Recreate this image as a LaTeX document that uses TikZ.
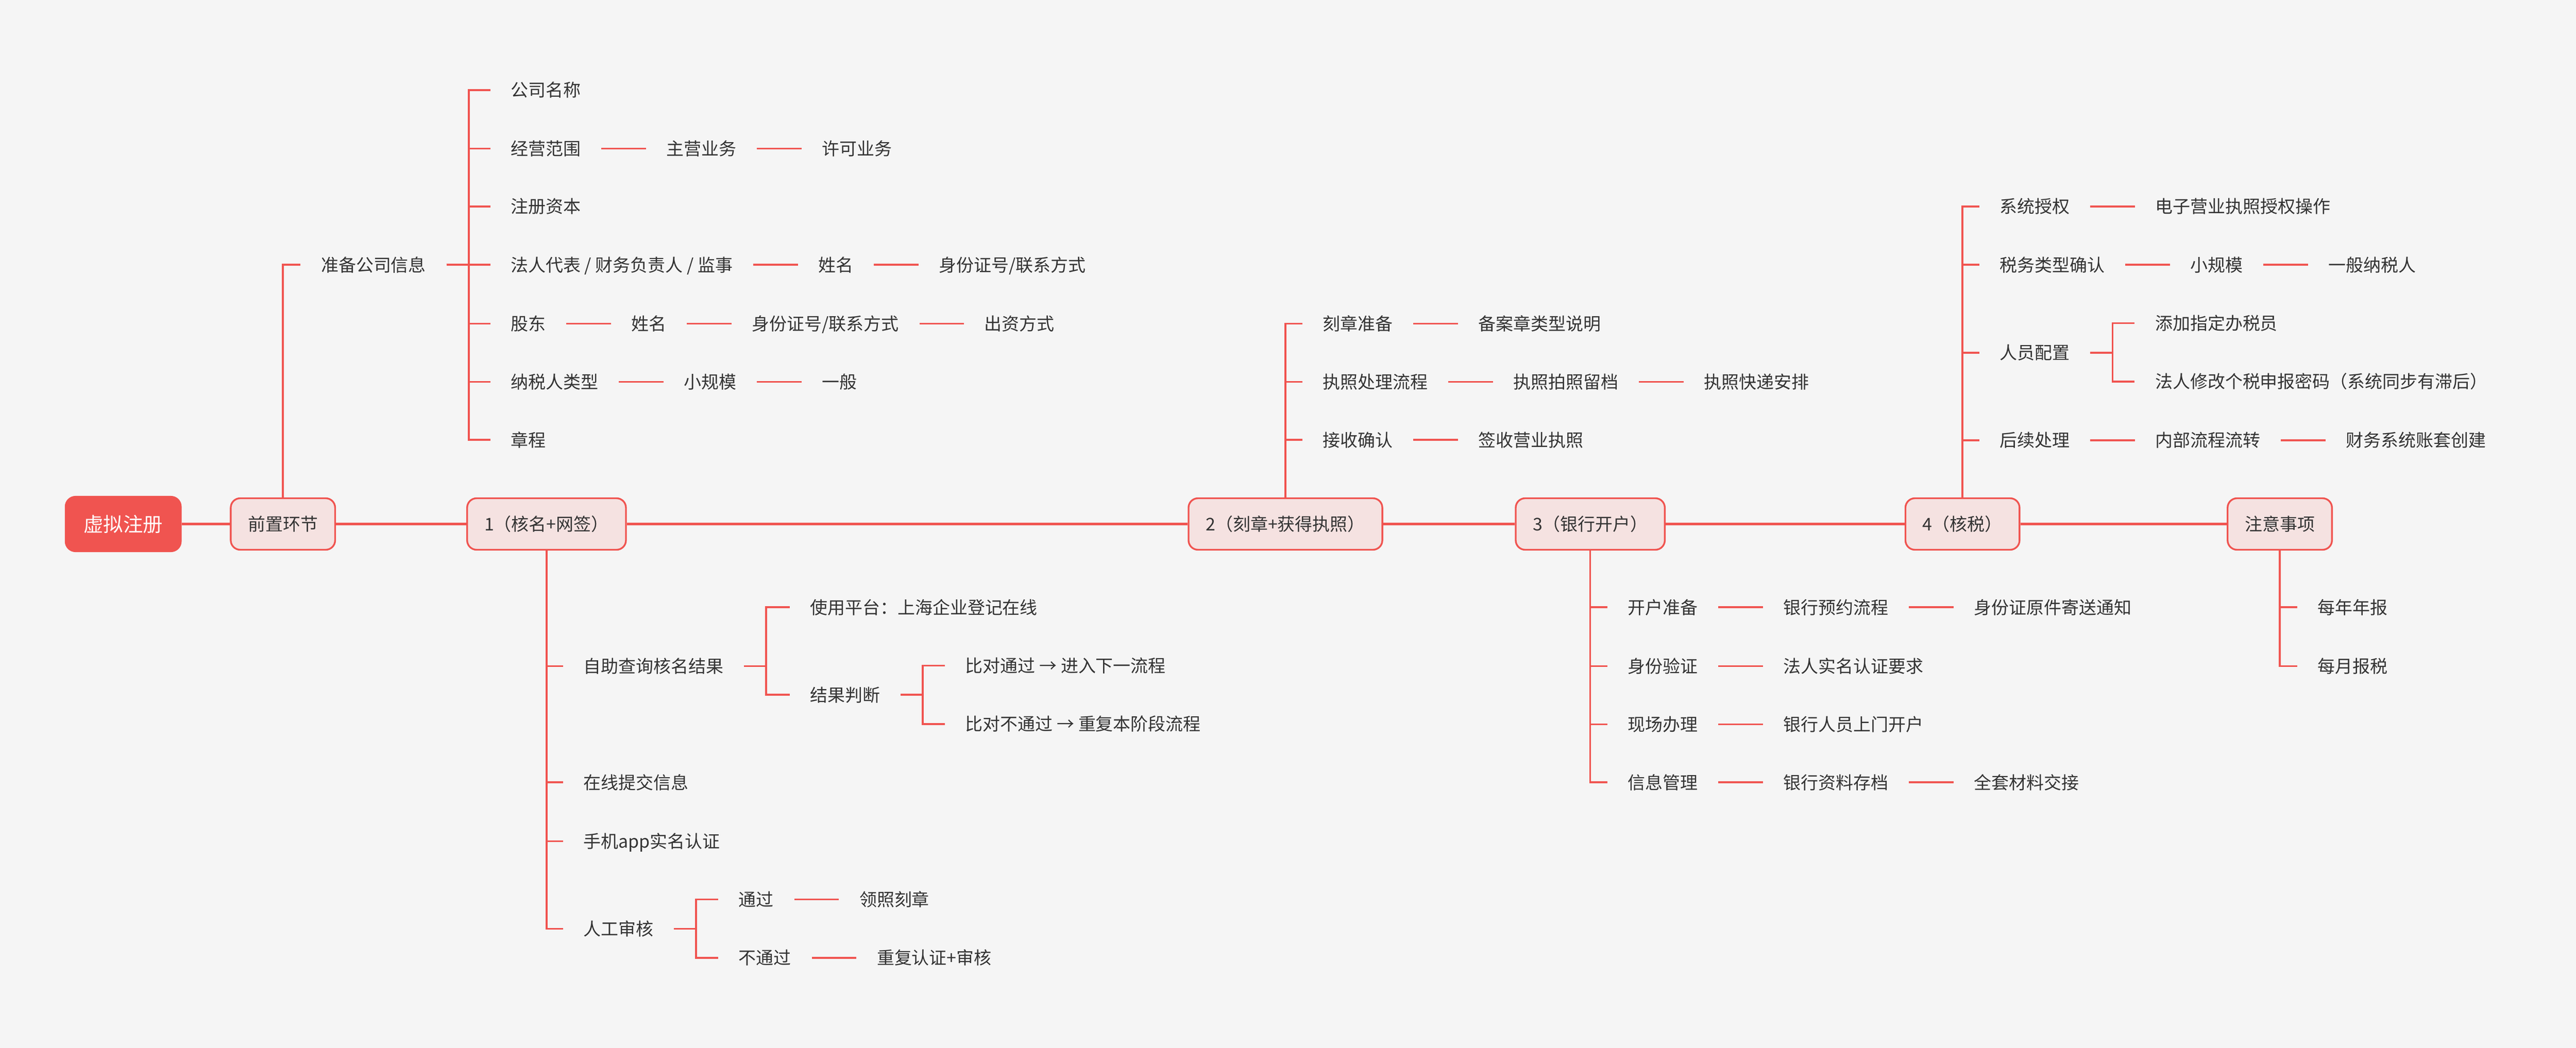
\documentclass[tikz,border=0pt]{standalone}
\usepackage{fontspec}
\setmainfont{Noto Sans CJK SC}
\usetikzlibrary{positioning}

\definecolor{mapred}{RGB}{240,84,80}
\definecolor{mappink}{RGB}{245,226,225}
\definecolor{mapbg}{RGB}{245,245,245}
\definecolor{maptext}{RGB}{51,51,51}

\tikzset{
    leaf/.style={anchor=west,
    inner xsep=0.47cm,
    inner ysep=0pt,
    text height=10.2pt,
    text depth=1.4pt,
    text=maptext,
    font=\fontsize{11.6pt}{14pt}\selectfont},
    stage/.style={draw=mapred,
    line width=1.15pt,
    fill=mappink,
    rounded corners=0.22cm,
    minimum height=1.2cm,
    inner xsep=0.4cm,
    text height=10.2pt,
    text depth=1.4pt,
    text=maptext,
    font=\fontsize{11.6pt}{14pt}\selectfont},
    topic/.style={fill=mapred,
    rounded corners=0.25cm,
    minimum height=1.31cm,
    inner xsep=0.44cm,
    text height=11.5pt,
    text depth=1.6pt,
    text=white,
    font=\fontsize{13.1pt}{16pt}\selectfont},
    trunk/.style={draw=mapred, line width=1.4pt},
    branch/.style={draw=mapred, line width=1.22pt}
}

\begin{document}
\begin{tikzpicture}
    % Background and page size
    \fill[mapbg] (0,0) rectangle (60,-24.42);

    % Main line of stages
    \node [topic] (root) at (2.87,-12.21) {虚拟注册};
    \node [stage] (pre) at (6.59,-12.21) {前置环节};
    \node [stage] (b1) at (12.73,-12.21) {1（核名+网签）};
    \node [stage] (b2) at (29.94,-12.21) {2（刻章+获得执照）};
    \node [stage] (b3) at (37.04,-12.21) {3（银行开户）};
    \node [stage] (b4) at (45.71,-12.21) {4（核税）};
    \node [stage] (note) at (53.10,-12.21) {注意事项};
    \draw [trunk] (root) -- (pre) -- (b1) -- (b2) -- (b3) -- (b4) -- (note);

    % Before registration: company information
    \node [leaf] (prep) at (7.00,-6.17) {准备公司信息};
    \draw [branch] (pre.north) |- (prep.west);

    \node [leaf] (cname) at (11.42,-2.10) {公司名称};
    \node [leaf] (scope) at (11.42,-3.46) {经营范围};
    \node [leaf, right=1.04cm of scope] (mainbiz) {主营业务};
    \node [leaf, right=1.04cm of mainbiz] (permit) {许可业务};
    \node [leaf] (capital) at (11.42,-4.81) {注册资本};
    \node [leaf] (legal) at (11.42,-6.17) {法人代表 / 财务负责人 / 监事};
    \node [leaf, right=1.04cm of legal] (lname) {姓名};
    \node [leaf, right=1.04cm of lname] (lid) {身份证号/联系方式};
    \node [leaf] (holder) at (11.42,-7.54) {股东};
    \node [leaf, right=1.04cm of holder] (hname) {姓名};
    \node [leaf, right=1.04cm of hname] (hid) {身份证号/联系方式};
    \node [leaf, right=1.04cm of hid] (invest) {出资方式};
    \node [leaf] (taxtype) at (11.42,-8.90) {纳税人类型};
    \node [leaf, right=1.04cm of taxtype] (small) {小规模};
    \node [leaf, right=1.04cm of small] (general) {一般};
    \node [leaf] (rules) at (11.42,-10.25) {章程};

    \draw [branch] (prep.east) -- ++(0.52,0) |- (cname.west);
    \draw [branch] (prep.east) -- ++(0.52,0) |- (scope.west);
    \draw [branch] (prep.east) -- ++(0.52,0) |- (capital.west);
    \draw [branch] (prep.east) -- (legal.west);
    \draw [branch] (prep.east) -- ++(0.52,0) |- (holder.west);
    \draw [branch] (prep.east) -- ++(0.52,0) |- (taxtype.west);
    \draw [branch] (prep.east) -- ++(0.52,0) |- (rules.west);
    \draw [branch] (scope) -- (mainbiz) -- (permit);
    \draw [branch] (legal) -- (lname) -- (lid);
    \draw [branch] (holder) -- (hname) -- (hid) -- (invest);
    \draw [branch] (taxtype) -- (small) -- (general);

    % Stage 1: name check and online signing
    \node [leaf] (query) at (13.11,-15.52) {自助查询核名结果};
    \node [leaf] (plat) at (18.39,-14.15) {使用平台：上海企业登记在线};
    \node [leaf] (judge) at (18.39,-16.19) {结果判断};
    \node [leaf] (pass) at (22.01,-15.51) {比对通过 → 进入下一流程};
    \node [leaf] (fail) at (22.01,-16.87) {比对不通过 → 重复本阶段流程};
    \node [leaf] (submit) at (13.11,-18.23) {在线提交信息};
    \node [leaf] (app) at (13.11,-19.60) {手机app实名认证};
    \node [leaf] (review) at (13.11,-21.64) {人工审核};
    \node [leaf] (ok) at (16.73,-20.96) {通过};
    \node [leaf, right=1.04cm of ok] (getlic) {领照刻章};
    \node [leaf] (redo) at (16.73,-22.32) {不通过};
    \node [leaf, right=1.04cm of redo] (again) {重复认证+审核};

    \draw [branch] (b1.south) |- (query.west);
    \draw [branch] (b1.south) |- (submit.west);
    \draw [branch] (b1.south) |- (app.west);
    \draw [branch] (b1.south) |- (review.west);
    \draw [branch] (query.east) -- ++(0.52,0) |- (plat.west);
    \draw [branch] (query.east) -- ++(0.52,0) |- (judge.west);
    \draw [branch] (judge.east) -- ++(0.52,0) |- (pass.west);
    \draw [branch] (judge.east) -- ++(0.52,0) |- (fail.west);
    \draw [branch] (review.east) -- ++(0.52,0) |- (ok.west);
    \draw [branch] (review.east) -- ++(0.52,0) |- (redo.west);
    \draw [branch] (ok) -- (getlic);
    \draw [branch] (redo) -- (again);

    % Stage 2: seals and licence
    \node [leaf] (seal) at (30.33,-7.54) {刻章准备};
    \node [leaf, right=1.04cm of seal] (sealtype) {备案章类型说明};
    \node [leaf] (proc) at (30.33,-8.90) {执照处理流程};
    \node [leaf, right=1.04cm of proc] (photo) {执照拍照留档};
    \node [leaf, right=1.04cm of photo] (post) {执照快递安排};
    \node [leaf] (recv) at (30.33,-10.25) {接收确认};
    \node [leaf, right=1.04cm of recv] (sign) {签收营业执照};

    \draw [branch] (b2.north) |- (seal.west);
    \draw [branch] (b2.north) |- (proc.west);
    \draw [branch] (b2.north) |- (recv.west);
    \draw [branch] (seal) -- (sealtype);
    \draw [branch] (proc) -- (photo) -- (post);
    \draw [branch] (recv) -- (sign);

    % Stage 3: bank account
    \node [leaf] (open) at (37.44,-14.15) {开户准备};
    \node [leaf, right=1.04cm of open] (book) {银行预约流程};
    \node [leaf, right=1.04cm of book] (idmail) {身份证原件寄送通知};
    \node [leaf] (idv) at (37.44,-15.52) {身份验证};
    \node [leaf, right=1.04cm of idv] (realname) {法人实名认证要求};
    \node [leaf] (site) at (37.44,-16.88) {现场办理};
    \node [leaf, right=1.04cm of site] (visit) {银行人员上门开户};
    \node [leaf] (info) at (37.44,-18.23) {信息管理};
    \node [leaf, right=1.04cm of info] (archive) {银行资料存档};
    \node [leaf, right=1.04cm of archive] (handover) {全套材料交接};

    \draw [branch] (b3.south) |- (open.west);
    \draw [branch] (b3.south) |- (idv.west);
    \draw [branch] (b3.south) |- (site.west);
    \draw [branch] (b3.south) |- (info.west);
    \draw [branch] (open) -- (book) -- (idmail);
    \draw [branch] (idv) -- (realname);
    \draw [branch] (site) -- (visit);
    \draw [branch] (info) -- (archive) -- (handover);

    % Stage 4: tax check
    \node [leaf] (auth) at (46.10,-4.81) {系统授权};
    \node [leaf, right=1.04cm of auth] (eauth) {电子营业执照授权操作};
    \node [leaf] (ttype) at (46.10,-6.17) {税务类型确认};
    \node [leaf, right=1.04cm of ttype] (tsmall) {小规模};
    \node [leaf, right=1.04cm of tsmall] (tgeneral) {一般纳税人};
    \node [leaf] (staff) at (46.10,-8.22) {人员配置};
    \node [leaf] (agent) at (49.72,-7.53) {添加指定办税员};
    \node [leaf] (pwd) at (49.72,-8.89) {法人修改个税申报密码（系统同步有滞后）};
    \node [leaf] (follow) at (46.10,-10.26) {后续处理};
    \node [leaf, right=1.04cm of follow] (flow) {内部流程流转};
    \node [leaf, right=1.04cm of flow] (books) {财务系统账套创建};

    \draw [branch] (b4.north) |- (auth.west);
    \draw [branch] (b4.north) |- (ttype.west);
    \draw [branch] (b4.north) |- (staff.west);
    \draw [branch] (b4.north) |- (follow.west);
    \draw [branch] (auth) -- (eauth);
    \draw [branch] (ttype) -- (tsmall) -- (tgeneral);
    \draw [branch] (staff.east) -- ++(0.52,0) |- (agent.west);
    \draw [branch] (staff.east) -- ++(0.52,0) |- (pwd.west);
    \draw [branch] (follow) -- (flow) -- (books);

    % Notes
    \node [leaf] (yearly) at (53.51,-14.15) {每年年报};
    \node [leaf] (monthly) at (53.51,-15.52) {每月报税};
    \draw [branch] (note.south) |- (yearly.west);
    \draw [branch] (note.south) |- (monthly.west);
\end{tikzpicture}
\end{document}
